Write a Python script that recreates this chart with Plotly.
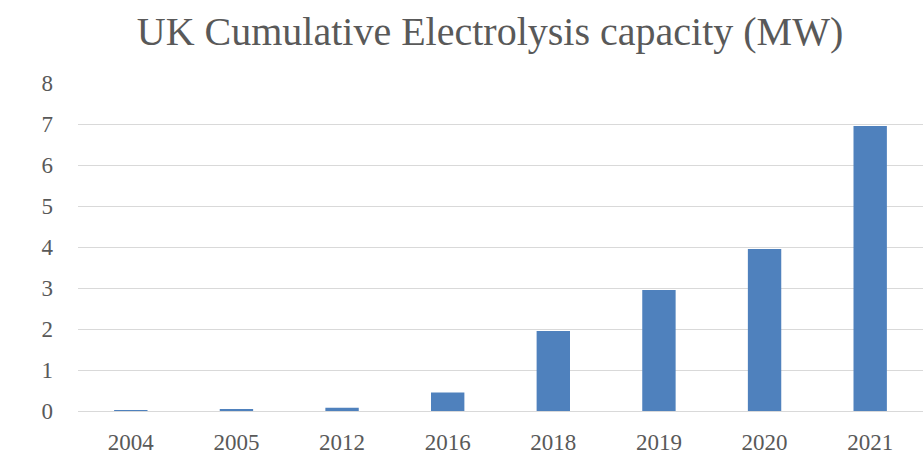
import plotly.graph_objects as go

# UK cumulative electrolyser capacity by year (MW)
years = ["2004", "2005", "2012", "2016", "2018", "2019", "2020", "2021"]
capacity_mw = [0.02, 0.05, 0.08, 0.45, 1.95, 2.95, 3.95, 6.95]
y_ticks = [0, 1, 2, 3, 4, 5, 6, 7, 8]

FONT = "Liberation Serif"
TEXT_COLOR = "#595959"
GRID_COLOR = "#d9d9d9"
BAR_COLOR = "#4f81bd"

fig = go.Figure(
    go.Bar(
        x=years,
        y=capacity_mw,
        marker=dict(color=BAR_COLOR, line=dict(width=0)),
        hovertemplate="%{x}: %{y} MW<extra></extra>",
    )
)

fig.update_layout(
    width=923,
    height=461,
    margin=dict(l=78, r=0, t=83, b=50),
    paper_bgcolor="white",
    plot_bgcolor="white",
    bargap=0.684,
    showlegend=False,
    font=dict(family=FONT, color=TEXT_COLOR, size=23),
    title=dict(
        text="UK Cumulative Electrolysis capacity (MW)",
        font=dict(family=FONT, color=TEXT_COLOR, size=40),
        x=490 / 923,
        xanchor="center",
        xref="container",
        y=1 - 31 / 461,
        yanchor="middle",
        yref="container",
    ),
)

fig.update_xaxes(
    type="category",
    showgrid=False,
    showline=False,
    zeroline=False,
    ticks="",
    ticklabelstandoff=15,
    tickfont=dict(family=FONT, color=TEXT_COLOR, size=23),
)

fig.update_yaxes(
    range=[0, 8],
    tickvals=y_ticks,
    showgrid=True,
    gridcolor=GRID_COLOR,
    gridwidth=1.3,
    zeroline=True,
    zerolinecolor=GRID_COLOR,
    zerolinewidth=1.3,
    showline=False,
    ticks="",
    ticklabelstandoff=24,
    tickfont=dict(family=FONT, color=TEXT_COLOR, size=23),
)

fig.write_html("out.html")
